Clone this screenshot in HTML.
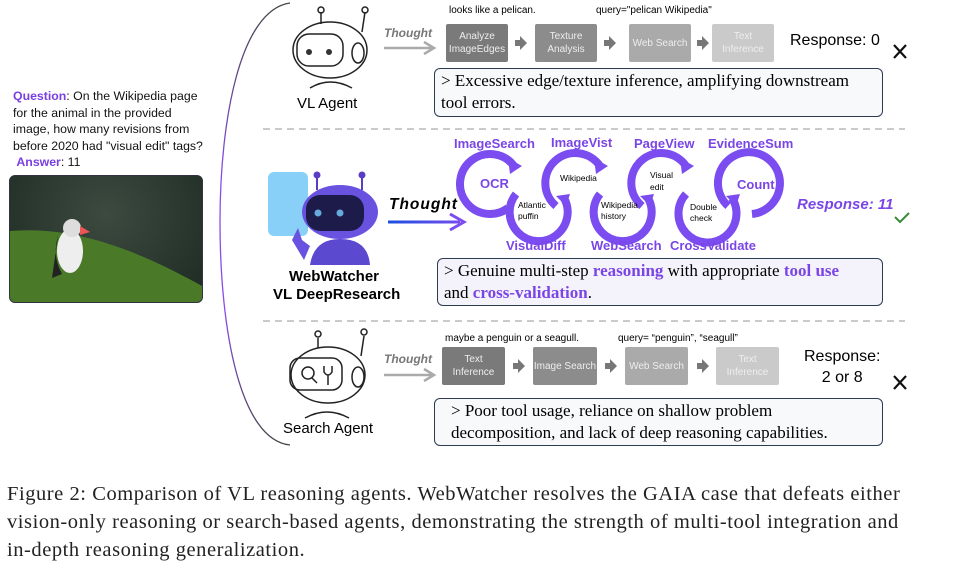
<!DOCTYPE html>
<html><head><meta charset="utf-8"><style>
body{margin:0;background:#fff;}
#c{position:relative;width:969px;height:576px;overflow:hidden;font-family:"Liberation Sans",sans-serif;}
.a{position:absolute;white-space:nowrap;}
.bx{position:absolute;color:#eee;font-size:10px;text-align:center;display:flex;align-items:center;justify-content:center;line-height:13px;border-radius:2px;}
.tb{position:absolute;border:1.3px solid #2d3b52;border-radius:6px;font-family:"Liberation Serif",serif;font-size:17px;line-height:22px;padding:1px 6px;box-sizing:border-box;}
.cap{font-family:"Liberation Serif",serif;font-size:20.5px;letter-spacing:0.55px;color:#222;}
.p{color:#7a45e6;font-weight:bold;}
</style></head><body><div id="c">
<svg class="a" style="left:0;top:0" width="969" height="576">
<defs><linearGradient id="g" gradientUnits="userSpaceOnUse" x1="388" y1="0" x2="464" y2="0"><stop offset="0" stop-color="#1a4fe0"/><stop offset="1" stop-color="#7b4cf0"/></linearGradient>
<linearGradient id="cv" gradientUnits="userSpaceOnUse" x1="0" y1="0" x2="0" y2="445"><stop offset="0" stop-color="#444"/><stop offset="0.4" stop-color="#8a4ce8"/><stop offset="0.7" stop-color="#8a4ce8"/><stop offset="1" stop-color="#444"/></linearGradient></defs>
<path d="M290 3 C 240 10 220 120 220 222 C 220 330 240 440 290 445" fill="none" stroke="url(#cv)" stroke-width="1.3"/>
<line x1="263" y1="129" x2="905" y2="129" stroke="#aaa" stroke-dasharray="7,5" stroke-width="1.2"/>
<line x1="263" y1="321" x2="905" y2="321" stroke="#aaa" stroke-dasharray="7,5" stroke-width="1.2"/>
<g stroke="#aaa" stroke-width="2.5" fill="none"><line x1="384" y1="48" x2="432" y2="48"/><path d="M424 42 L434 48 L424 54"/>
<line x1="384" y1="375" x2="432" y2="375"/><path d="M424 369 L434 375 L424 381"/></g>
<g fill="#777"><path d="M515 40h5v-4l7 7-7 7v-4h-5z"/><path d="M604 40h5v-4l7 7-7 7v-4h-5z"/><path d="M697 40h5v-4l7 7-7 7v-4h-5z"/>
<path d="M513 363h5v-4l7 7-7 7v-4h-5z"/><path d="M605 363h5v-4l7 7-7 7v-4h-5z"/><path d="M697 363h5v-4l7 7-7 7v-4h-5z"/></g>
<line x1="388" y1="222" x2="460" y2="222" stroke="url(#g)" stroke-width="3"/><path d="M450 214 L464 222 L450 230" stroke="#7b4cf0" stroke-width="3" fill="none"/>
<g fill="none" stroke="#7b4cf0" stroke-width="8">
<path d="M508 208 A30 30 0 1 1 514 166"/>
<path d="M516 194 A29 29 0 1 0 564 198"/>
<path d="M556 206 A30 30 0 1 1 600 166"/>
<path d="M600 194 A29 29 0 1 0 648 198"/>
<path d="M642 206 A30 30 0 1 1 686 166"/>
<path d="M686 194 A29 29 0 1 0 732 198"/>
<path d="M728 206 A31 31 0 1 1 752 214"/>
</g>
<g fill="#7b4cf0"><path d="M508 158 l14 8 l-12 8z"/><path d="M594 158 l14 8 l-12 8z"/><path d="M680 158 l14 8 l-12 8z"/>
<path d="M556 196 l14 -2 l-4 12z"/><path d="M640 196 l14 -2 l-4 12z"/><path d="M726 196 l14 -2 l-4 12z"/></g>
<path d="M895 217 l5 5 l9 -9" stroke="#3a8a3a" stroke-width="2" fill="none"/>
<g stroke="#111" stroke-width="2.2"><path d="M894 45 l12 13 M906 45 l-12 13"/><path d="M894 376 l12 13 M906 376 l-12 13"/></g>
<g fill="none" stroke="#222" stroke-width="1.5">
<line x1="321" y1="12" x2="321" y2="24"/><circle cx="321" cy="10" r="3"/><line x1="365" y1="12" x2="362" y2="32"/><circle cx="365" cy="10" r="3"/>
<ellipse cx="330" cy="50" rx="37" ry="28"/><rect x="297" y="34" width="46" height="32" rx="12"/><ellipse cx="358" cy="53" rx="6" ry="10"/>
<path d="M310 88 q20 -12 42 0"/>
<line x1="318" y1="338" x2="318" y2="348"/><circle cx="318" cy="334" r="3"/><line x1="364" y1="336" x2="361" y2="356"/><circle cx="364" cy="332" r="3"/>
<ellipse cx="328" cy="375" rx="37" ry="28"/><rect x="290" y="358" width="52" height="32" rx="10"/><ellipse cx="358" cy="377" rx="6" ry="10"/>
<circle cx="308" cy="373" r="6"/><path d="M312 378 l5 5 M324 366 v6 q4 6 8 0 v-6 M328 375 v10"/>
<path d="M305 418 q22 -12 44 0"/></g>
<g fill="#333"><circle cx="309" cy="52" r="3"/><circle cx="329" cy="52" r="3"/></g>
<rect x="268" y="172" width="40" height="64" rx="6" fill="#6ac4f5" opacity="0.8"/>
<line x1="317" y1="178" x2="317" y2="190" stroke="#5b3cc4" stroke-width="2"/><circle cx="317" cy="175" r="3.5" fill="#5b3cc4"/>
<line x1="362" y1="178" x2="362" y2="190" stroke="#5b3cc4" stroke-width="2"/><circle cx="362" cy="175" r="3.5" fill="#5b3cc4"/>
<ellipse cx="340" cy="212" rx="38" ry="27" fill="#6a52e0"/><rect x="306" y="195" width="58" height="36" rx="14" fill="#1d1b4a"/>
<circle cx="318" cy="213" r="3.5" fill="#6ad"/><circle cx="340" cy="213" r="3.5" fill="#6ad"/>
<path d="M310 265 q4 -26 30 -26 q28 0 30 26z" fill="#5b4ad0"/><path d="M292 240 l6 -12 l4 12 l8 6 l-6 14z" fill="#6a52e0"/>
</svg>
<div class="a" style="left:13px;top:88px;font-size:12.3px;line-height:16.5px;color:#111;"><span style="color:#7a3fe0;font-weight:bold">Question</span>: On the Wikipedia page<br>for the animal in the provided<br>image, how many revisions from<br>before 2020 had "visual edit" tags?<br>&nbsp;<span style="color:#7a3fe0;font-weight:bold">Answer</span>: 11</div>
<div class="a" style="left:9px;top:175px;width:192px;height:126px;border-radius:6px;border:1.5px solid #334;background:radial-gradient(ellipse at 50% 30%,#3d4a40,#1d2a22);overflow:hidden;">
<svg width="192" height="126" style="position:absolute;left:0;top:0"><path d="M0 55 C60 50 120 70 192 110 L192 126 L0 126z" fill="#4a7a28"/>
<ellipse cx="60" cy="75" rx="13" ry="22" fill="#eee"/><path d="M48 60 q-6 20 4 38 l-10 4z" fill="#222"/><circle cx="62" cy="52" r="9" fill="#ddd"/><path d="M70 50 l10 6 l-10 3z" fill="#e55"/></svg></div>
<div class="a" style="left:297px;top:95px;font-size:15px">VL Agent</div>
<div class="a" style="left:289px;top:268px;font-size:15px;font-weight:bold">WebWatcher</div>
<div class="a" style="left:273px;top:286px;font-size:15px;font-weight:bold">VL DeepResearch</div>
<div class="a" style="left:283px;top:420px;font-size:15px">Search Agent</div>
<div class="a" style="left:384px;top:26px;font-size:12px;font-weight:bold;font-style:italic;color:#777">Thought</div>
<div class="a" style="left:384px;top:352px;font-size:12px;font-weight:bold;font-style:italic;color:#777">Thought</div>
<div class="a" style="left:389px;top:196px;font-size:15.5px;font-weight:bold;font-style:italic;letter-spacing:1px">Thought</div>
<div class="a" style="left:449px;top:5px;font-size:10px">looks like a pelican.</div>
<div class="a" style="left:596px;top:5px;font-size:10px">query="pelican Wikipedia"</div>
<div class="bx" style="left:446px;top:24px;width:62px;height:38px;background:#7a7a7a">Analyze<br>ImageEdges</div>
<div class="bx" style="left:535px;top:24px;width:62px;height:38px;background:#8c8c8c">Texture<br>Analysis</div>
<div class="bx" style="left:629px;top:24px;width:62px;height:38px;background:#aaa">Web Search</div>
<div class="bx" style="left:712px;top:24px;width:62px;height:38px;background:#cacaca">Text<br>Inference</div>
<div class="a" style="left:790px;top:32px;font-size:16px">Response: 0</div>
<div class="tb" style="left:434px;top:68px;width:449px;height:49px;background:#f7f9fb">&gt; Excessive edge/texture inference, amplifying downstream<br>tool errors.</div>
<div class="a" style="left:445px;top:333px;font-size:10px">maybe a penguin or a seagull.</div>
<div class="a" style="left:618px;top:333px;font-size:10px">query= “penguin”, “seagull”</div>
<div class="bx" style="left:442px;top:347px;width:63px;height:38px;background:#7a7a7a">Text<br>Inference</div>
<div class="bx" style="left:533px;top:347px;width:64px;height:38px;background:#8c8c8c">Image Search</div>
<div class="bx" style="left:625px;top:347px;width:63px;height:38px;background:#aaa">Web Search</div>
<div class="bx" style="left:716px;top:347px;width:63px;height:38px;background:#cacaca">Text<br>Inference</div>
<div class="a" style="left:804px;top:346px;font-size:16px;text-align:center;line-height:21px">Response:<br>2 or 8</div>
<div class="tb" style="left:434px;top:398px;width:449px;height:48px;background:#f7f9fb;padding-left:16px">&gt; Poor tool usage, reliance on shallow problem<br>decomposition, and lack of deep reasoning capabilities.</div>
<div class="a p" style="left:454px;top:136px;font-size:13px">ImageSearch</div>
<div class="a p" style="left:551px;top:135px;font-size:13px">ImageVist</div>
<div class="a p" style="left:634px;top:136px;font-size:13px">PageView</div>
<div class="a p" style="left:708px;top:136px;font-size:13px">EvidenceSum</div>
<div class="a p" style="left:506px;top:238px;font-size:13px">VisualDiff</div>
<div class="a p" style="left:591px;top:238px;font-size:13px">WebSearch</div>
<div class="a p" style="left:670px;top:238px;font-size:13px">CrossValidate</div>
<div class="a p" style="left:480px;top:176px;font-size:13px">OCR</div>
<div class="a p" style="left:737px;top:177px;font-size:13px">Count</div>
<div class="a" style="left:518px;top:200px;font-size:8.5px;line-height:11px">Atlantic<br>puffin</div>
<div class="a" style="left:560px;top:173px;font-size:8.5px">Wikipedia</div>
<div class="a" style="left:601px;top:200px;font-size:8.5px;line-height:11px">Wikipedia<br>history</div>
<div class="a" style="left:650px;top:169px;font-size:8.5px;line-height:12px">Visual<br>edit</div>
<div class="a" style="left:690px;top:202px;font-size:8.5px;line-height:11px">Double<br>check</div>
<div class="a p" style="left:797px;top:196px;font-size:15px;font-style:italic">Response: 11</div>
<div class="tb" style="left:437px;top:258px;width:446px;height:48px;background:#f4f2fb">&gt; Genuine multi-step <span class="p">reasoning</span> with appropriate <span class="p">tool use</span><br>and <span class="p">cross-validation</span>.</div>
<div class="a cap" style="left:7px;top:480px;line-height:28px">Figure 2: Comparison of VL reasoning agents. WebWatcher resolves the GAIA case that defeats either<br>vision-only reasoning or search-based agents, demonstrating the strength of multi-tool integration and<br>in-depth reasoning generalization.</div>
</div></body></html>
